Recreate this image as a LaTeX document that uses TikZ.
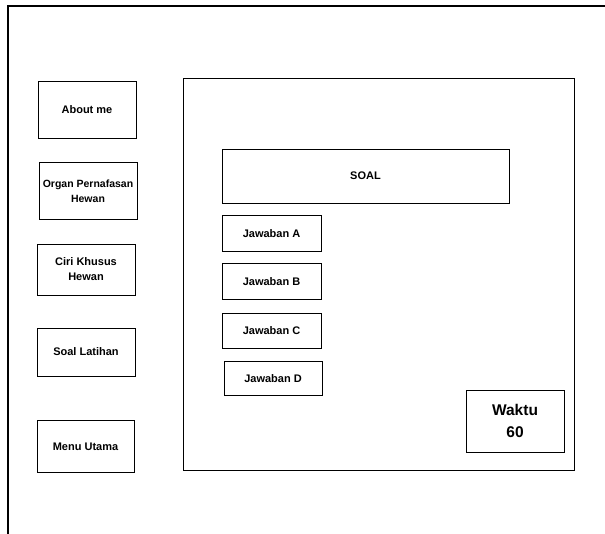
\documentclass[tikz,border=0pt]{standalone}
\usepackage{fontspec}
\setmainfont{Liberation Sans}
\usetikzlibrary{positioning}

\begin{document}
\begin{tikzpicture}[
  x=1pt, y=-1pt,
  menubox/.style={draw, line width=0.9pt, inner sep=1pt, align=center, minimum width=98pt, font=\fontsize{11}{15}\selectfont\bfseries},
  ansbox/.style={draw, line width=0.9pt, inner sep=1pt, align=center, minimum width=99pt, minimum height=36pt, font=\fontsize{11}{15}\selectfont\bfseries}
]
\useasboundingbox (0,0) rectangle (605,534);
\draw[line width=1.1pt] (605,6) -- (8,6) -- (8,534);

% menu kiri
\node[menubox, minimum height=57pt] (about) at (87,110) {About me};
\node[menubox, minimum height=57pt, font=\fontsize{10.5}{15}\selectfont\bfseries] (organ) at (88,191) {Organ Pernafasan\\Hewan};
\node[menubox, minimum height=51pt] (ciri) at (86,269.5) {Ciri Khusus\\Hewan};
\node[menubox, minimum height=48pt] (latihan) at (86,352) {Soal Latihan};
\node[menubox, minimum height=52pt, minimum width=97pt] (menu) at (85.5,446.5) {Menu Utama};

% panel soal
\node[draw, line width=0.9pt, minimum width=391pt, minimum height=392pt] (panel) at (378.5,274) {};
\node[menubox, minimum width=287pt, minimum height=54pt] (soal) at (365.5,176) {SOAL};
\node[ansbox] (jwbA) at (271.5,233.5) {Jawaban A};
\node[ansbox, below=11pt of jwbA] (jwbB) {Jawaban B};
\node[ansbox, minimum height=35pt, below=13pt of jwbB] (jwbC) {Jawaban C};
\node[ansbox, minimum height=34pt, minimum width=98pt, below=12pt of jwbC.south east, anchor=north east, xshift=1pt] (jwbD) {Jawaban D};
\node[draw, line width=0.9pt, minimum width=98pt, minimum height=62pt, align=center, font=\fontsize{15.5}{22}\selectfont\bfseries] (waktu) at (515,421) {Waktu\\60};
\end{tikzpicture}
\end{document}
